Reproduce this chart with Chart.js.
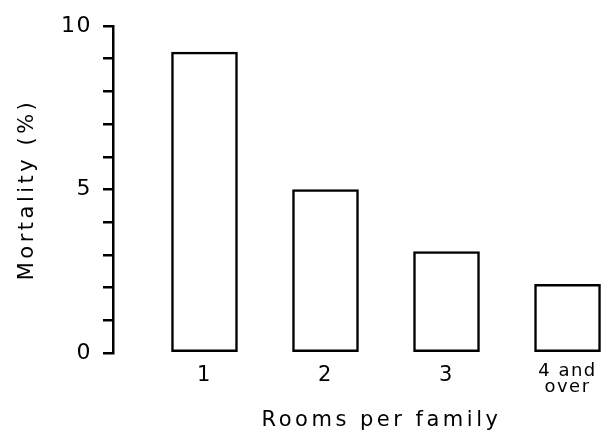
<!DOCTYPE html>
<html>
<head>
<meta charset="utf-8">
<script src="https://cdn.jsdelivr.net/npm/chart.js@4.4.1/dist/chart.umd.min.js"></script>
<style>
  html, body { margin: 0; padding: 0; background: #fff; }
  canvas { display: block; }
</style>
</head>
<body>
<canvas id="chart" width="606" height="433"></canvas>
<script>
// data
const rooms = [1, 2, 3, 4];
const roomLabels = ['1', '2', '3', ['4 and', 'over']];
const mortality = [9.2, 5.0, 3.1, 2.1];
const yTickLabels = [0, 5, 10];

const ink = '#000';
const fontFamily = '"DejaVu Sans", sans-serif';

// axis titles in the print are spaced out, tick labels only a little;
// the x title sits a bit right of the plot centre in the original
const origDrawTitle = Chart.Scale.prototype.drawTitle;
Chart.Scale.prototype.drawTitle = function (...args) {
    const ctx = this.ctx;
    ctx.save();
    ctx.letterSpacing = '3.5px';
    if (this.isHorizontal()) ctx.translate(22, 0);
    origDrawTitle.apply(this, args);
    ctx.restore();
};
const spacingPlugin = {
    id: 'spacing',
    beforeDraw(chart) { chart.ctx.letterSpacing = '1.5px'; }
};

new Chart(document.getElementById('chart'), {
    type: 'bar',
    data: {
        datasets: [{
            data: rooms.map((r, i) => ({ x: r, y: mortality[i] })),
            backgroundColor: '#fff',
            borderColor: ink,
            borderWidth: 2.5,
            borderSkipped: false,
            barThickness: 66
        }]
    },
    options: {
        responsive: false,
        animation: false,
        layout: { padding: { top: 26, right: 0, left: 0, bottom: 0 } },
        plugins: { legend: { display: false }, tooltip: { enabled: false } },
        scales: {
            x: {
                type: 'linear',
                offset: false,
                min: 0.244,
                max: 4.318,
                grid: { display: false, drawTicks: false },
                border: { display: false },
                afterBuildTicks: (scale) => { scale.ticks = rooms.map(v => ({ value: v })); },
                afterFit: (scale) => { scale.height = 80; },
                ticks: {
                    padding: 10,
                    color: ink,
                    maxRotation: 0,
                    autoSkip: false,
                    font: (ctx) => ctx.index === 3
                        ? { family: fontFamily, size: 18, lineHeight: 0.9 }
                        : { family: fontFamily, size: 21 },
                    callback: (v) => roomLabels[rooms.indexOf(v)]
                },
                title: {
                    display: true,
                    text: 'Rooms per family',
                    color: ink,
                    font: { family: fontFamily, size: 21 },
                    padding: { top: 0, bottom: 0 }
                }
            },
            y: {
                min: 0,
                max: 10,
                afterFit: (scale) => { scale.width = 113; },
                grid: { drawOnChartArea: false, drawTicks: true, tickLength: 10, color: ink, lineWidth: 2.5 },
                border: { display: true, color: ink, width: 2.5 },
                ticks: {
                    stepSize: 1,
                    padding: 11,
                    color: ink,
                    font: { family: fontFamily, size: 22 },
                    callback: (v) => yTickLabels.includes(v) ? String(v) : ''
                },
                title: {
                    display: true,
                    text: 'Mortality (%)',
                    color: ink,
                    font: { family: fontFamily, size: 21 },
                    padding: { top: 15, bottom: 0 }
                }
            }
        }
    },
    plugins: [spacingPlugin]
});
</script>
</body>
</html>
